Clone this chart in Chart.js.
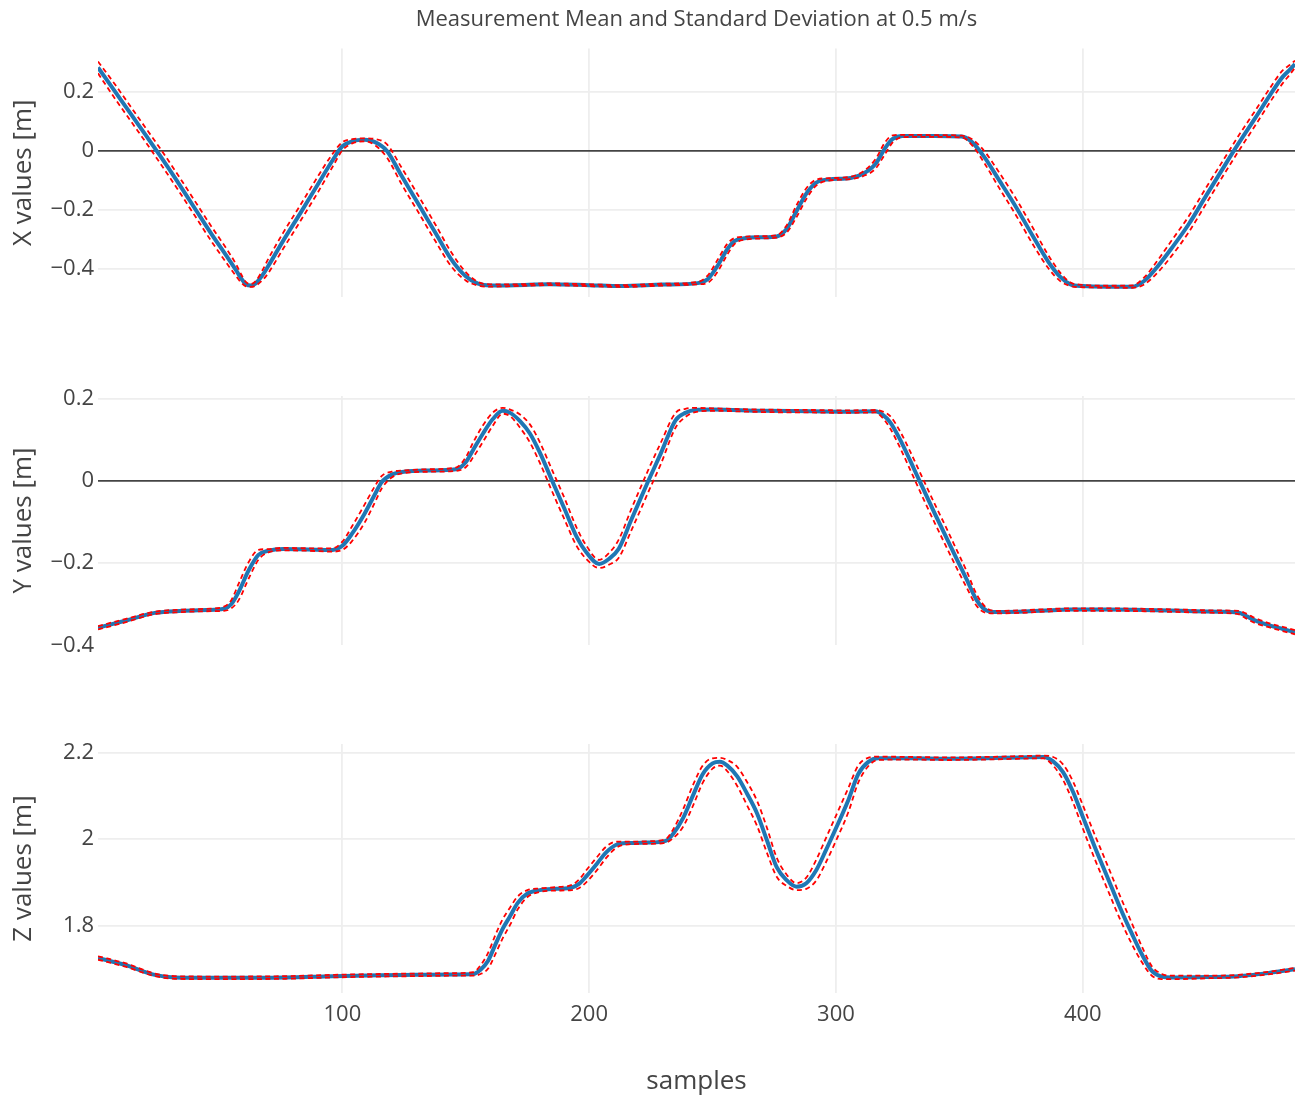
<!DOCTYPE html>
<html>
<head>
<meta charset="utf-8">
<title>Measurement Mean and Standard Deviation at 0.5 m/s</title>
<script src="https://cdn.jsdelivr.net/npm/chart.js@4.4.1/dist/chart.umd.min.js"></script>
<style>
  body { margin: 0; background: #fff; }
  #wrap { position: relative; width: 1300px; height: 1095px; background: #fff; }
  #wrap canvas { position: absolute; left: 0; }
</style>
</head>
<body>
<div id="wrap">
  <canvas id="xChart" width="1300" height="300" style="top:0px"></canvas>
  <canvas id="yChart" width="1300" height="325" style="top:350px"></canvas>
  <canvas id="zChart" width="1300" height="395" style="top:700px"></canvas>
</div>
<script>
// X position
const xSamples = [1, 8, 15, 21, 26, 33, 40, 47, 53, 57, 59, 61, 63, 65, 68, 70, 76, 83, 90, 96, 100,
  104, 109, 113, 118, 124, 131, 138, 144, 150, 155, 160, 170, 184, 200, 213, 230, 244, 248, 252, 256,
  259, 263, 270, 276, 280, 284, 288, 292, 297, 306, 311, 316, 320, 323, 327, 340, 351, 355, 360, 366,
  373, 380, 386, 391, 395, 400, 410, 420, 425, 430, 436, 443, 450, 457, 463, 470, 476, 481, 484, 486];
const xMean = [0.282, 0.199, 0.116, 0.045, -0.015, -0.102, -0.192, -0.282, -0.355, -0.405, -0.432, -0.452, -0.456, -0.448, -0.417, -0.390, -0.305, -0.211, -0.115, -0.033, 0.015,
  0.032, 0.037, 0.030, 0.000, -0.085, -0.183, -0.282, -0.366, -0.425, -0.450, -0.456, -0.455, -0.452, -0.455, -0.458, -0.453, -0.448, -0.435, -0.390, -0.333,
  -0.305, -0.296, -0.293, -0.290, -0.265, -0.205, -0.145, -0.108, -0.097, -0.092, -0.078, -0.045, 0.010, 0.040, 0.050, 0.050, 0.048, 0.030, -0.020, -0.098,
  -0.191, -0.292, -0.375, -0.428, -0.452, -0.458, -0.460, -0.460, -0.440, -0.395, -0.330, -0.248, -0.152, -0.057, 0.023, 0.112, 0.190, 0.250, 0.275, 0.293];
const xStd = [0.020, 0.024, 0.024, 0.024, 0.025, 0.025, 0.025, 0.025, 0.024, 0.020, 0.014, 0.007, 0.005, 0.008, 0.018, 0.024, 0.027, 0.027, 0.027, 0.022, 0.014,
  0.007, 0.005, 0.010, 0.022, 0.028, 0.028, 0.028, 0.024, 0.014, 0.006, 0.004, 0.003, 0.003, 0.003, 0.003, 0.003, 0.004, 0.012, 0.020, 0.018,
  0.010, 0.005, 0.004, 0.004, 0.012, 0.020, 0.018, 0.010, 0.004, 0.004, 0.008, 0.016, 0.020, 0.012, 0.004, 0.003, 0.003, 0.010, 0.020, 0.026,
  0.028, 0.028, 0.022, 0.014, 0.006, 0.004, 0.003, 0.004, 0.012, 0.020, 0.026, 0.027, 0.027, 0.026, 0.026, 0.025, 0.024, 0.022, 0.016, 0.012];

// Y position
const ySamples = [1, 12, 24, 35, 45, 52, 55, 58, 62, 66, 70, 76, 86, 96, 100, 104, 109, 113, 116, 120,
  125, 135, 146, 150, 153, 157, 161, 165, 168, 172, 176, 180, 185, 190, 195, 199, 204, 208, 212, 217,
  221, 224, 229, 235, 239, 243, 250, 270, 290, 305, 316, 319, 322, 326, 330, 335, 340, 345, 349, 353,
  357, 361, 365, 374, 385, 395, 410, 425, 440, 455, 463, 466, 470, 476, 481, 486];
const yMean = [-0.357, -0.340, -0.321, -0.316, -0.314, -0.311, -0.300, -0.270, -0.218, -0.180, -0.170, -0.166, -0.167, -0.168, -0.158, -0.128, -0.080, -0.035, -0.003, 0.015,
  0.022, 0.025, 0.028, 0.045, 0.075, 0.115, 0.150, 0.170, 0.165, 0.145, 0.115, 0.069, 0.000, -0.068, -0.137, -0.175, -0.202, -0.190, -0.165, -0.096,
  -0.041, 0.000, 0.066, 0.147, 0.165, 0.172, 0.173, 0.170, 0.169, 0.168, 0.169, 0.160, 0.142, 0.100, 0.050, -0.015, -0.079, -0.141, -0.191, -0.240,
  -0.290, -0.315, -0.319, -0.318, -0.315, -0.313, -0.313, -0.314, -0.316, -0.318, -0.320, -0.328, -0.340, -0.352, -0.360, -0.368];
const yStd = [0.004, 0.004, 0.003, 0.003, 0.003, 0.005, 0.010, 0.020, 0.020, 0.012, 0.004, 0.003, 0.003, 0.004, 0.010, 0.018, 0.022, 0.020, 0.015, 0.007,
  0.003, 0.003, 0.004, 0.012, 0.018, 0.020, 0.016, 0.007, 0.008, 0.016, 0.022, 0.025, 0.026, 0.026, 0.022, 0.016, 0.010, 0.014, 0.022, 0.026,
  0.027, 0.027, 0.026, 0.018, 0.010, 0.005, 0.003, 0.003, 0.003, 0.003, 0.003, 0.008, 0.015, 0.020, 0.022, 0.023, 0.023, 0.023, 0.022, 0.020,
  0.014, 0.006, 0.003, 0.003, 0.003, 0.003, 0.003, 0.003, 0.003, 0.003, 0.004, 0.006, 0.006, 0.005, 0.005, 0.005];

// Z position
const zSamples = [1, 12, 24, 32, 50, 77, 96, 115, 130, 145, 153, 156, 159, 162, 165, 168, 171, 175, 180, 187,
  193, 196, 199, 203, 207, 211, 216, 224, 231, 234, 238, 242, 246, 250, 253, 256, 260, 264, 268, 272,
  276, 280, 284, 288, 292, 296, 300, 305, 309, 313, 317, 330, 345, 360, 375, 384, 388, 392, 396, 400,
  405, 410, 415, 420, 424, 428, 432, 436, 450, 463, 475, 486];
const zMean = [1.725, 1.709, 1.686, 1.680, 1.679, 1.680, 1.683, 1.685, 1.686, 1.687, 1.688, 1.698, 1.718, 1.756, 1.793, 1.822, 1.852, 1.874, 1.882, 1.885,
  1.888, 1.897, 1.915, 1.942, 1.970, 1.987, 1.991, 1.992, 1.996, 2.012, 2.048, 2.100, 2.150, 2.175, 2.179, 2.170, 2.145, 2.105, 2.060, 1.998,
  1.935, 1.905, 1.890, 1.898, 1.928, 1.975, 2.025, 2.090, 2.150, 2.178, 2.187, 2.187, 2.186, 2.187, 2.189, 2.190, 2.180, 2.155, 2.110, 2.052,
  1.980, 1.912, 1.843, 1.780, 1.733, 1.695, 1.682, 1.680, 1.681, 1.683, 1.690, 1.699];
const zStd = [0.004, 0.004, 0.003, 0.003, 0.003, 0.003, 0.003, 0.003, 0.003, 0.003, 0.004, 0.010, 0.018, 0.022, 0.022, 0.020, 0.015, 0.008, 0.004, 0.004,
  0.006, 0.010, 0.014, 0.015, 0.013, 0.007, 0.003, 0.003, 0.004, 0.010, 0.020, 0.024, 0.020, 0.012, 0.009, 0.013, 0.022, 0.027, 0.029, 0.029,
  0.022, 0.013, 0.008, 0.013, 0.024, 0.028, 0.029, 0.028, 0.020, 0.010, 0.004, 0.003, 0.003, 0.003, 0.003, 0.003, 0.010, 0.018, 0.024, 0.027,
  0.028, 0.028, 0.027, 0.024, 0.018, 0.011, 0.006, 0.004, 0.003, 0.003, 0.003, 0.003];

// axis ranges and ticks
const sampleRange = [1, 486];
const sampleTicks = [100, 200, 300, 400];
const xRange = [-0.495, 0.346];
const yRange = [-0.399, 0.206];
const zRange = [1.644, 2.22];
const xTicks = [-0.4, -0.2, 0, 0.2];
const yTicks = [-0.4, -0.2, 0, 0.2];
const zTicks = [1.8, 2, 2.2];

Chart.defaults.font.family = '"Open Sans", sans-serif';
Chart.defaults.color = "#444";

function tickLabel(v) {
  if (v === 0) return "0";
  return (v < 0 ? "\u2212" : "") + Math.abs(v);
}

function gridColor(c, range) {
  if (!c.tick) return "#eee";
  const v = c.tick.value;
  if (v === 0) return "#444";
  // no grid line on the frame edge
  if (Math.abs(v - range[0]) < 0.005 || Math.abs(v - range[1]) < 0.005) return "rgba(0,0,0,0)";
  return "#eee";
}

function makePanel(id, samples, mean, std, range, ticks, axisTitle, opts) {
  const ctx = document.getElementById(id).getContext("2d");
  const meanPts = samples.map((s, i) => ({ x: s, y: mean[i] }));
  const upperPts = samples.map((s, i) => ({ x: s, y: mean[i] + std[i] }));
  const lowerPts = samples.map((s, i) => ({ x: s, y: mean[i] - std[i] }));

  const dashed = {
    borderColor: "#ff0000",
    borderWidth: 1.8,
    borderDash: [5, 3.5],
    pointRadius: 0,
    cubicInterpolationMode: "monotone",
    fill: false,
    order: 0
  };

  return new Chart(ctx, {
    type: "line",
    data: {
      datasets: [
        Object.assign({ label: "mean + std", data: upperPts }, dashed),
        Object.assign({ label: "mean - std", data: lowerPts }, dashed),
        {
          label: "mean",
          data: meanPts,
          borderColor: "#1f77b4",
          borderWidth: 4,
          pointRadius: 0,
          cubicInterpolationMode: "monotone",
          fill: false,
          order: 1
        }
      ]
    },
    options: {
      responsive: false,
      animation: false,
      layout: { padding: opts.padding },
      plugins: {
        legend: { display: false },
        tooltip: { enabled: false },
        title: opts.title || { display: false }
      },
      scales: {
        x: {
          type: "linear",
          min: sampleRange[0],
          max: sampleRange[1],
          afterBuildTicks: (axis) => { axis.ticks = sampleTicks.map(v => ({ value: v })); },
          afterFit: (axis) => {
            axis.height = opts.xHeight;
            axis.paddingLeft = 0;
            axis.paddingRight = 0;
          },
          border: { display: false },
          grid: { color: "#eee", lineWidth: 1.8, drawTicks: false },
          ticks: {
            display: opts.showX,
            font: { size: 22 },
            padding: 8.5,
            maxRotation: 0
          },
          title: {
            display: opts.showX,
            text: "samples",
            font: { size: 26, lineHeight: 1.05 },
            padding: { top: 0, bottom: 0 }
          }
        },
        y: {
          type: "linear",
          min: range[0],
          max: range[1],
          afterBuildTicks: (axis) => { axis.ticks = ticks.map(v => ({ value: v })); },
          afterFit: (axis) => {
            // keep the plot area fixed, labels may hang over its edges
            axis.width = 98;
            axis.paddingTop = 0;
            axis.paddingBottom = 0;
          },
          border: { display: false },
          grid: {
            color: (c) => gridColor(c, range),
            lineWidth: 1.8,
            drawTicks: false
          },
          ticks: {
            font: { size: 22 },
            padding: 4,
            autoSkip: false,
            callback: (v) => tickLabel(v)
          },
          title: {
            display: true,
            text: axisTitle,
            font: { size: 26 },
            padding: { top: 7.5, bottom: 0 }
          }
        }
      }
    }
  });
}

makePanel("xChart", xSamples, xMean, xStd, xRange, xTicks, "X values [m]", {
  padding: { top: 0, right: 5, bottom: 3, left: 0 },
  xHeight: 0,
  showX: false,
  title: {
    display: true,
    text: "Measurement Mean and Standard Deviation at 0.5 m/s",
    fullSize: false,
    color: "#444",
    font: { size: 22, weight: "normal" },
    padding: { top: 7, bottom: 15.1 }
  }
});

makePanel("yChart", ySamples, yMean, yStd, yRange, yTicks, "Y values [m]", {
  padding: { top: 46, right: 5, bottom: 30, left: 0 },
  xHeight: 0,
  showX: false
});

makePanel("zChart", zSamples, zMean, zStd, zRange, zTicks, "Z values [m]", {
  padding: { top: 44, right: 5, bottom: 0, left: 0 },
  xHeight: 102,
  showX: true
});
</script>
</body>
</html>
